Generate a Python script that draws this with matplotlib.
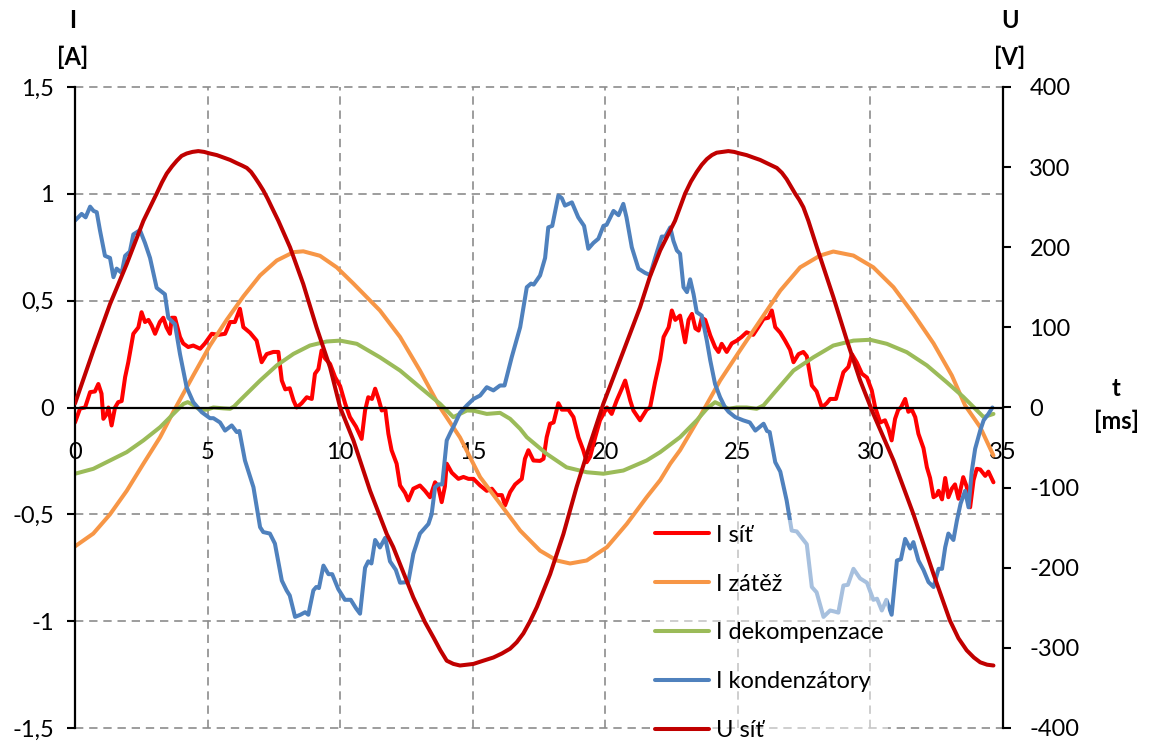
import matplotlib
matplotlib.use("Agg")
import matplotlib.pyplot as plt
from matplotlib.ticker import FixedLocator, FixedFormatter

plt.rcParams['font.family'] = ['Lato', 'DejaVu Sans']

# ---------------- data ----------------
# I síť [A]
t_sit = [0.0, 0.19, 0.38, 0.57, 0.75, 0.88, 1.0, 1.07, 1.2, 1.26, 1.38, 1.51, 1.63, 1.76, 1.89,
         2.01, 2.2, 2.39, 2.51, 2.64, 2.77, 2.89, 3.02, 3.2, 3.33, 3.45, 3.58, 3.65, 3.77, 3.96,
         4.08, 4.27, 4.46, 4.72, 4.9, 5.16, 5.41, 5.66, 5.85, 6.03, 6.22, 6.35, 6.6, 6.85, 7.04,
         7.23, 7.48, 7.67, 7.8, 7.93, 8.1, 8.24, 8.36, 8.55, 8.74, 8.93, 9.05, 9.18, 9.3, 9.43,
         9.62, 9.81, 10.0, 10.19, 10.37, 10.6, 10.81, 10.94, 11.06, 11.2, 11.32, 11.45, 11.57,
         11.7, 11.82, 11.94, 12.13, 12.26, 12.45, 12.57, 12.76, 13.01, 13.2, 13.39, 13.58, 13.7,
         13.83, 13.95, 14.02, 14.21, 14.46, 14.65, 14.84, 15.03, 15.28, 15.53, 15.72, 15.91, 16.1,
         16.22, 16.41, 16.6, 16.85, 16.97, 17.1, 17.29, 17.54, 17.67, 17.79, 17.92, 18.05, 18.23,
         18.36, 18.61, 18.8, 18.99, 19.17, 19.3, 19.43, 19.62, 19.8, 20.06, 20.24, 20.43, 20.62,
         20.75, 20.94, 21.06, 21.31, 21.56, 21.69, 21.88, 22.07, 22.2, 22.39, 22.51, 22.64, 22.82,
         23.01, 23.14, 23.27, 23.4, 23.52, 23.64, 23.77, 23.96, 24.14, 24.27, 24.39, 24.58, 24.77,
         24.96, 25.14, 25.33, 25.58, 25.77, 25.97, 26.15, 26.28, 26.41, 26.6, 26.78, 26.97, 27.1,
         27.29, 27.47, 27.6, 27.79, 27.97, 28.17, 28.35, 28.48, 28.7, 28.98, 29.17, 29.3, 29.49,
         29.68, 29.87, 30.05, 30.18, 30.37, 30.55, 30.68, 30.8, 30.93, 31.05, 31.15, 31.31, 31.43,
         31.56, 31.69, 31.81, 32.0, 32.13, 32.25, 32.38, 32.5, 32.57, 32.7, 32.82, 32.94, 33.07,
         33.19, 33.32, 33.5, 33.63, 33.76, 33.89, 34.01, 34.14, 34.33, 34.45, 34.64]
i_sit = [-0.07, -0.005, 0.0, 0.072, 0.075, 0.11, 0.065, -0.053, -0.03, 0.0, -0.084, 0.0, 0.025,
         0.03, 0.142, 0.212, 0.345, 0.375, 0.446, 0.40, 0.41, 0.384, 0.345, 0.40, 0.42, 0.375,
         0.345, 0.42, 0.42, 0.33, 0.30, 0.283, 0.29, 0.275, 0.30, 0.345, 0.34, 0.345, 0.40, 0.40,
         0.462, 0.376, 0.35, 0.313, 0.212, 0.25, 0.26, 0.26, 0.126, 0.085, 0.09, 0.033, 0.0, 0.02,
         0.048, 0.04, 0.158, 0.18, 0.267, 0.23, 0.204, 0.142, 0.1, 0.018, -0.045, -0.09, -0.147,
         -0.014, 0.048, 0.04, 0.088, 0.04, -0.014, -0.005, -0.123, -0.2, -0.263, -0.365, -0.40,
         -0.435, -0.38, -0.365, -0.39, -0.42, -0.35, -0.37, -0.443, -0.37, -0.263, -0.305, -0.334,
         -0.325, -0.334, -0.334, -0.365, -0.39, -0.38, -0.41, -0.41, -0.458, -0.396, -0.36, -0.334,
         -0.24, -0.2, -0.248, -0.25, -0.24, -0.139, -0.076, -0.07, 0.02, -0.01, -0.01, -0.045,
         -0.14, -0.2, -0.256, -0.23, -0.139, -0.06, 0.0, -0.03, 0.033, 0.087, 0.126, 0.033, -0.014,
         -0.06, -0.01, 0.0, 0.12, 0.225, 0.33, 0.375, 0.454, 0.41, 0.43, 0.305, 0.41, 0.438, 0.37,
         0.36, 0.42, 0.41, 0.337, 0.283, 0.26, 0.298, 0.26, 0.30, 0.313, 0.33, 0.352, 0.34, 0.376,
         0.415, 0.42, 0.454, 0.376, 0.35, 0.313, 0.27, 0.212, 0.25, 0.26, 0.24, 0.103, 0.075, 0.0,
         0.02, 0.04, 0.04, 0.165, 0.19, 0.25, 0.21, 0.158, 0.14, 0.08, 0.0, -0.07, -0.06, -0.1,
         -0.154, -0.053, -0.01, 0.0, 0.04, -0.02, -0.01, -0.045, -0.123, -0.19, -0.28, -0.33, -0.42,
         -0.41, -0.39, -0.43, -0.33, -0.42, -0.38, -0.36, -0.427, -0.326, -0.37, -0.467, -0.34,
         -0.287, -0.29, -0.32, -0.30, -0.35]

# I zátěž [A]
t_zat = [0.0, 0.69, 1.32, 1.95, 2.58, 3.21, 3.71, 4.46, 5.09, 5.72, 6.35, 6.98, 7.61, 8.24, 8.61,
         9.24, 9.87, 10.5, 11.5, 12.26, 13.01, 13.77, 14.52, 15.28, 16.03, 16.79, 17.54, 18.17,
         18.67, 19.3, 20.06, 20.81, 21.56, 22.07, 22.45, 22.82, 23.58, 24.33, 25.08, 25.84, 26.6,
         27.35, 28.1, 28.6, 29.36, 30.11, 30.87, 31.62, 32.38, 33.07, 33.57, 34.14, 34.64]
i_zat = [-0.65, -0.59, -0.50, -0.39, -0.263, -0.139, -0.02, 0.15, 0.29, 0.41, 0.52, 0.618, 0.688,
         0.727, 0.731, 0.71, 0.656, 0.58, 0.454, 0.33, 0.173, 0.0, -0.14, -0.326, -0.45, -0.576,
         -0.67, -0.716, -0.73, -0.716, -0.654, -0.545, -0.42, -0.34, -0.263, -0.2, -0.04, 0.126,
         0.267, 0.407, 0.547, 0.656, 0.711, 0.73, 0.711, 0.656, 0.563, 0.438, 0.3, 0.15, 0.01,
         -0.092, -0.225]

# I dekompenzace [A]
t_dek = [0.0, 0.69, 1.32, 1.95, 2.58, 3.21, 3.71, 4.09, 4.25, 4.46, 4.72, 4.97, 5.22, 5.6, 5.85,
         6.0, 6.22, 6.98, 7.61, 8.24, 8.86, 9.49, 10.0, 10.63, 11.5, 12.26, 13.01, 13.77, 14.27,
         14.52, 14.78, 15.03, 15.53, 16.03, 16.41, 16.79, 17.04, 17.79, 18.54, 19.3, 19.93, 20.68,
         21.56, 22.07, 22.82, 23.45, 23.83, 24.14, 24.39, 24.65, 24.96, 25.33, 25.71, 25.97,
         26.34, 27.1, 27.85, 28.6, 29.36, 29.99, 30.62, 31.37, 32.13, 32.88, 33.5, 34.27, 34.64]
i_dek = [-0.31, -0.287, -0.248, -0.209, -0.154, -0.092, -0.03, 0.017, 0.025, 0.012, -0.012,
         -0.01, 0.0, -0.004, -0.006, 0.005, 0.033, 0.126, 0.197, 0.251, 0.29, 0.309, 0.313, 0.298,
         0.235, 0.173, 0.095, 0.017, -0.045, -0.03, -0.014, -0.015, -0.03, -0.025, -0.053, -0.1,
         -0.139, -0.217, -0.28, -0.303, -0.31, -0.295, -0.248, -0.209, -0.139, -0.06, -0.006,
         0.025, 0.01, -0.006, 0.0, 0.0, -0.006, 0.01, 0.064, 0.173, 0.235, 0.29, 0.313, 0.317,
         0.298, 0.259, 0.197, 0.118, 0.05, -0.045, -0.03]

# I kondenzátory [A]
t_kon = [0.0, 0.25, 0.4, 0.57, 0.7, 0.82, 0.94, 1.13, 1.32, 1.45, 1.57, 1.76, 1.89, 2.07, 2.2,
         2.45, 2.64, 2.83, 3.08, 3.39, 3.52, 3.77, 3.96, 4.21, 4.46, 4.78, 5.09, 5.22, 5.47, 5.66,
         5.91, 6.1, 6.2, 6.41, 6.73, 6.98, 7.1, 7.35, 7.54, 7.8, 7.98, 8.1, 8.3, 8.5, 8.68, 8.8,
         8.99, 9.1, 9.2, 9.37, 9.56, 9.7, 9.93, 10.18, 10.4, 10.6, 10.75, 10.94, 11.06, 11.18,
         11.32, 11.5, 11.7, 11.88, 12.1, 12.26, 12.57, 12.76, 13.01, 13.33, 13.45, 13.58, 13.7,
         13.85, 14.02, 14.15, 14.33, 14.52, 14.78, 15.03, 15.28, 15.53, 15.78, 16.03, 16.2, 16.47,
         16.79, 17.04, 17.2, 17.3, 17.54, 17.73, 17.85, 18.0, 18.23, 18.36, 18.48, 18.74, 18.98,
         19.2, 19.36, 19.55, 19.74, 19.93, 20.05, 20.31, 20.5, 20.68, 20.8, 21.0, 21.25, 21.5,
         21.69, 21.88, 22.13, 22.26, 22.45, 22.57, 22.7, 22.82, 22.95, 23.08, 23.2, 23.33, 23.45,
         23.64, 23.83, 23.96, 24.14, 24.33, 24.52, 24.65, 24.9, 25.2, 25.45, 25.66, 25.97, 26.1,
         26.2, 26.41, 26.6, 26.84, 27.03, 27.22, 27.47, 27.6, 27.79, 27.97, 28.23, 28.48, 28.65,
         28.79, 28.98, 29.15, 29.36, 29.61, 29.87, 30.11, 30.25, 30.43, 30.6, 30.8, 31.0, 31.15,
         31.31, 31.5, 31.62, 31.81, 32.0, 32.19, 32.38, 32.57, 32.7, 32.82, 32.94, 33.13, 33.26,
         33.4, 33.57, 33.7, 33.82, 33.95, 34.14, 34.27, 34.45, 34.6]
i_kon = [0.875, 0.906, 0.89, 0.94, 0.92, 0.914, 0.83, 0.71, 0.70, 0.61, 0.65, 0.63, 0.71, 0.73,
         0.81, 0.83, 0.77, 0.70, 0.56, 0.53, 0.42, 0.39, 0.25, 0.095, 0.025, -0.022, -0.05, -0.05,
         -0.07, -0.108, -0.084, -0.115, -0.11, -0.248, -0.373, -0.56, -0.583, -0.59, -0.637,
         -0.81, -0.856, -0.88, -0.98, -0.97, -0.958, -0.97, -0.856, -0.84, -0.845, -0.74, -0.78,
         -0.78, -0.85, -0.90, -0.90, -0.94, -0.965, -0.75, -0.72, -0.73, -0.62, -0.655, -0.61,
         -0.72, -0.76, -0.82, -0.817, -0.685, -0.59, -0.545, -0.5, -0.373, -0.36, -0.36, -0.154,
         -0.12, -0.076, -0.025, 0.01, 0.04, 0.056, 0.095, 0.08, 0.103, 0.103, 0.235, 0.376, 0.563,
         0.58, 0.575, 0.618, 0.70, 0.843, 0.85, 0.992, 0.98, 0.945, 0.96, 0.89, 0.85, 0.743, 0.77,
         0.79, 0.85, 0.855, 0.92, 0.9, 0.953, 0.89, 0.75, 0.65, 0.63, 0.62, 0.70, 0.80, 0.80, 0.843,
         0.78, 0.735, 0.72, 0.563, 0.54, 0.60, 0.53, 0.446, 0.43, 0.313, 0.22, 0.11, 0.048, 0.0,
         -0.02, -0.045, -0.06, -0.07, -0.108, -0.076, -0.11, -0.115, -0.256, -0.30, -0.435, -0.576,
         -0.58, -0.62, -0.64, -0.84, -0.865, -0.98, -0.95, -0.955, -0.96, -0.833, -0.83, -0.755,
         -0.80, -0.82, -0.90, -0.895, -0.95, -0.90, -0.97, -0.716, -0.71, -0.615, -0.66, -0.63,
         -0.716, -0.76, -0.817, -0.84, -0.755, -0.755, -0.654, -0.59, -0.62, -0.53, -0.45, -0.39,
         -0.467, -0.3, -0.193, -0.108, -0.06, -0.03, 0.0]

# U síť [V]
t_u = [0.0, 0.69, 1.32, 1.95, 2.58, 3.08, 3.28, 3.46, 3.66, 3.84, 4.02, 4.21, 4.43, 4.65, 4.87,
       5.09, 5.35, 5.6, 5.85, 6.1, 6.3, 6.48, 6.64, 6.79, 6.95, 7.1, 7.26, 7.42, 7.67, 8.11, 8.61,
       9.11, 9.62, 10.0, 10.5, 11.13, 11.76, 12.0, 12.76, 13.2, 13.52, 13.78, 14.02, 14.27, 14.52,
       14.78, 15.03, 15.4, 15.78, 16.1, 16.41, 16.66, 16.91, 17.16, 17.42, 17.92, 18.42, 18.92,
       19.43, 19.93, 20.68, 21.31, 21.68, 22.07, 22.63, 23.01, 23.23, 23.45, 23.64, 23.83, 24.02,
       24.2, 24.42, 24.64, 24.86, 25.08, 25.33, 25.58, 25.84, 26.09, 26.28, 26.47, 26.66, 26.84,
       27.0, 27.16, 27.32, 27.47, 27.66, 27.98, 28.6, 29.11, 29.61, 30.11, 30.87, 31.62, 32.38,
       33.0, 33.32, 33.63, 33.9, 34.14, 34.4, 34.64]
u_sit = [5, 71, 129, 179, 233, 267, 281, 292, 301, 308, 314, 317, 319, 320, 319, 317, 315, 312,
         309, 305, 302, 299, 294, 287, 279, 271, 261, 250, 233, 200, 154, 100, 50, 0, -41, -104,
         -158, -174, -237, -268, -287, -303, -316, -320, -322, -321, -320, -316, -312, -307, -301,
         -293, -282, -267, -249, -208, -158, -99, -45, 5, 70, 125, 163, 196, 233, 267, 282, 294,
         303, 310, 315, 318, 319, 320, 319, 317, 315, 312, 309, 305, 302, 299, 293, 285, 276, 267,
         259, 250, 233, 200, 138, 84, 34, -8, -66, -133, -208, -266, -288, -303, -312, -318, -321,
         -322]

series_names = ['I síť', 'I zátěž', 'I dekompenzace', 'I kondenzátory', 'U síť']
x_ticks = [0, 5, 10, 15, 20, 25, 30, 35]
i_ticks = [-1.5, -1, -0.5, 0, 0.5, 1, 1.5]
i_tick_labels = ['-1,5', '-1', '-0,5', '0', '0,5', '1', '1,5']
u_ticks = [-400, -300, -200, -100, 0, 100, 200, 300, 400]
u_tick_labels = ['-400', '-300', '-200', '-100', '0', '100', '200', '300', '400']

# ---------------- figure ----------------
W, H = 1149, 744
fig = plt.figure(figsize=(W / 100, H / 100), dpi=100)
ax = fig.add_axes([75 / W, 16 / H, 928 / W, 641 / H])
ax2 = ax.twinx()

colors = ['#FF0000', '#F79646', '#9BBB59', '#4F81BD', '#C00000']
lw = 2.9
kw = dict(lw=lw, solid_joinstyle='round', solid_capstyle='round')
l1, = ax.plot(t_sit, i_sit, color=colors[0], label=series_names[0], **kw)
l2, = ax.plot(t_zat, i_zat, color=colors[1], label=series_names[1], **kw)
l3, = ax.plot(t_dek, i_dek, color=colors[2], label=series_names[2], **kw)
l4, = ax.plot(t_kon, i_kon, color=colors[3], label=series_names[3], **kw)
l5, = ax2.plot(t_u, u_sit, color=colors[4], label=series_names[4], **kw)

ax.set_xlim(0, 35)
ax.set_ylim(-1.5, 1.5)
ax2.set_ylim(-400, 400)

fs = 17
grid_kw = dict(color='#8C8C8C', lw=1.2, linestyle=(0, (5, 3.5)))
for x in x_ticks[1:-1]:
    ax.axvline(x, zorder=0, **grid_kw)
for y in i_ticks:
    if y != 0:
        ax.axhline(y, zorder=0, clip_on=False, **grid_kw)

# spines
for s in ['top', 'right']:
    ax.spines[s].set_visible(False)
ax.spines['bottom'].set_position(('data', 0))
ax.spines['bottom'].set_linewidth(1.6)
ax.spines['left'].set_linewidth(1.6)
for s in ['top', 'left', 'bottom']:
    ax2.spines[s].set_visible(False)
ax2.spines['right'].set_linewidth(1.6)

ax.xaxis.set_major_locator(FixedLocator(x_ticks))
ax.xaxis.set_major_formatter(FixedFormatter([str(v) for v in x_ticks]))
ax.tick_params(axis='x', length=0, pad=25, labelsize=fs)
ax.yaxis.set_major_locator(FixedLocator(i_ticks))
ax.yaxis.set_major_formatter(FixedFormatter(i_tick_labels))
ax.tick_params(axis='y', direction='out', length=6, width=1.5, pad=9, labelsize=fs)
ax2.yaxis.set_major_locator(FixedLocator(u_ticks))
ax2.yaxis.set_major_formatter(FixedFormatter(u_tick_labels))
ax2.tick_params(axis='y', direction='out', length=6, width=1.5, pad=13, labelsize=fs)

# unit labels
def ftext(x, y, s):
    fig.text(x / W, 1 - y / H, s, ha='center', va='center', fontsize=fs, fontweight='bold')

ftext(73, 21, 'I')
ftext(73, 57, '[A]')
ftext(1010, 21, 'U')
ftext(1010, 57, '[V]')
ftext(1116, 389, 't')
ftext(1116, 421, '[ms]')

leg = ax2.legend([l1, l2, l3, l4, l5], series_names, loc='upper left',
                 bbox_to_anchor=(650 / W, 1 - 520 / H), bbox_transform=fig.transFigure,
                 fontsize=fs, frameon=True, fancybox=False, framealpha=0.5,
                 edgecolor='none', facecolor='white', borderpad=0.2, borderaxespad=0,
                 labelspacing=1.18, handlelength=2.3, handletextpad=0.3)

fig.savefig('out.png', dpi=100)
